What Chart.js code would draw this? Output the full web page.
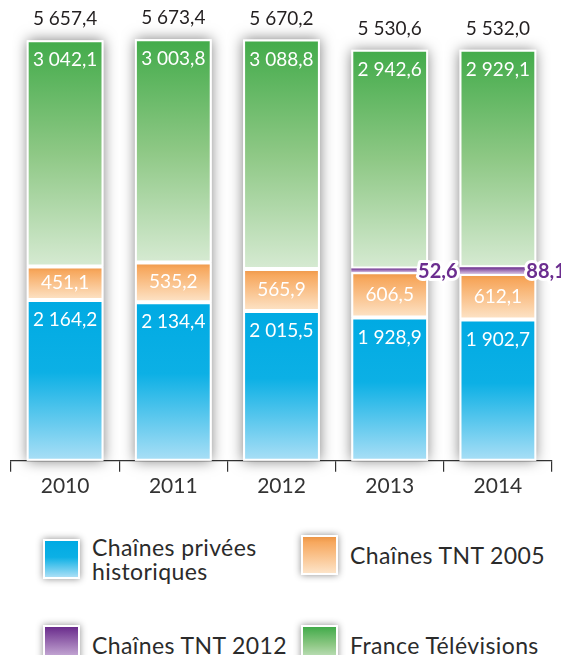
<!DOCTYPE html>
<html>
<head>
<meta charset="utf-8">
<script src="https://cdn.jsdelivr.net/npm/chart.js@4.4.1/dist/chart.umd.min.js"></script>
<style>
  html, body { margin: 0; padding: 0; background: #fff; }
  #wrap { position: relative; width: 561px; height: 655px; overflow: hidden; font-family: Lato, sans-serif; }
  #box { position: absolute; left: 0; top: 0; width: 561px; height: 501px; }
  .item { position: absolute; display: flex; align-items: center; color: #2b2b2b; font-size: 23px; line-height: 24px; letter-spacing: 0.4px; }
  .sw { width: 33px; height: 36px; border: 2px solid #fff; box-shadow: 0 0 7px rgba(0,0,0,0.45); margin-right: 12px; flex: none; }
</style>
</head>
<body>
<div id="wrap">
  <div id="box"><canvas id="tvChart"></canvas></div>
  <div id="legend"></div>
</div>
<script>
  // Données (millions d'euros)
  const years = ['2010', '2011', '2012', '2013', '2014'];
  const privees = [2164.2, 2134.4, 2015.5, 1928.9, 1902.7];
  const tnt2005 = [451.1, 535.2, 565.9, 606.5, 612.1];
  const tnt2012 = [null, null, null, 52.6, 88.1];
  const franceTv = [3042.1, 3003.8, 3088.8, 2942.6, 2929.1];
  const totals = [5657.4, 5673.4, 5670.2, 5530.6, 5532.0];
  const seriesNames = ['Chaînes privées historiques', 'Chaînes TNT 2005', 'Chaînes TNT 2012', 'France Télévisions'];

  const colorStops = [
    [[0, '#00aae3'], [0.45, '#0cb0e5'], [1, '#aadff6']],
    [[0, '#ec9546'], [0.15, '#f7a85e'], [1, '#fde4c8']],
    [[0, '#6a2c8c'], [1, '#d9c4e4']],
    [[0, '#42ab4a'], [0.5, '#8ec885'], [1, '#d6ead2']]
  ];

  function fmt(v) {
    const s = v.toFixed(1).split('.');
    return s[0].replace(/\B(?=(\d{3})+(?!\d))/g, ' ') + ',' + s[1];
  }

  function gradientFor(ds) {
    return function(c) {
      const chart = c.chart;
      const stops = colorStops[ds];
      if (!chart.chartArea || c.dataIndex === undefined) return stops[0][1];
      let base = 0;
      for (let d = 0; d < ds; d++) base += chart.data.datasets[d].data[c.dataIndex] || 0;
      const v = c.raw || 0;
      const y = chart.scales.y;
      const y0 = y.getPixelForValue(base), y1 = y.getPixelForValue(base + v);
      if (Math.abs(y0 - y1) < 1) return stops[0][1];
      const g = chart.ctx.createLinearGradient(0, y1, 0, y0);
      stops.forEach(s => g.addColorStop(s[0], s[1]));
      return g;
    };
  }

  // ombre derrière chaque colonne
  const shadowPlugin = {
    id: 'shadow',
    beforeDatasetsDraw(chart) {
      const ctx = chart.ctx;
      const yScale = chart.scales.y;
      ctx.save();
      ctx.shadowColor = 'rgba(0,0,0,0.5)';
      ctx.shadowBlur = 13;
      ctx.fillStyle = '#fff';
      years.forEach((_, i) => {
        let top = Infinity, el0 = null;
        chart.data.datasets.forEach((d, di) => {
          const el = chart.getDatasetMeta(di).data[i];
          if (d.data[i]) { top = Math.min(top, el.y); el0 = el; }
        });
        if (!el0) return;
        const base = yScale.getPixelForValue(0);
        ctx.fillRect(el0.x - el0.width / 2, top, el0.width, base - top);
      });
      ctx.restore();
    }
  };

  // étiquettes de valeurs
  const labelPlugin = {
    id: 'labels',
    afterDatasetsDraw(chart) {
      const ctx = chart.ctx;
      ctx.save();
      ctx.textAlign = 'center';
      ctx.textBaseline = 'middle';
      chart.data.datasets.forEach((d, di) => {
        chart.getDatasetMeta(di).data.forEach((el, i) => {
          const v = d.data[i];
          if (!v) return;
          if (di === 2) {
            ctx.font = 'bold 20px Lato, sans-serif';
            ctx.textAlign = 'left';
            const x = el.x + el.width / 2 - 10;
            const y = (el.y + el.base) / 2 + 1;
            ctx.lineWidth = 6;
            ctx.strokeStyle = '#fff';
            ctx.lineJoin = 'round';
            ctx.strokeText(fmt(v), x, y);
            ctx.fillStyle = '#6b2d8f';
            ctx.fillText(fmt(v), x, y);
            ctx.textAlign = 'center';
            return;
          }
          ctx.font = '19px Lato, sans-serif';
          ctx.fillStyle = '#fff';
          const y = di === 1 ? (el.y + el.base) / 2 : el.y + 20;
          ctx.fillText(fmt(v), el.x, y);
        });
      });
      ctx.font = '19px Lato, sans-serif';
      ctx.fillStyle = '#231f20';
      totals.forEach((t, i) => {
        let top = Infinity, x = 0;
        chart.data.datasets.forEach((d, di) => {
          const el = chart.getDatasetMeta(di).data[i];
          if (d.data[i]) { top = Math.min(top, el.y); x = el.x; }
        });
        ctx.fillText(fmt(t), x, top - 21);
      });
      ctx.restore();
    }
  };

  const seriesData = [privees, tnt2005, tnt2012, franceTv];

  const ctx = document.getElementById('tvChart').getContext('2d');
  const tvChart = new Chart(ctx, {
    type: 'bar',
    data: {
      labels: years,
      datasets: seriesData.map((data, i) => ({
        label: seriesNames[i],
        data: data,
        backgroundColor: gradientFor(i),
        borderColor: '#fff',
        borderWidth: i === 2 ? 0 : 2,
        borderSkipped: false,
        barPercentage: 0.71,
        categoryPercentage: 1
      }))
    },
    options: {
      responsive: true,
      maintainAspectRatio: false,
      animation: false,
      layout: { padding: { left: 11, right: 9, top: 0, bottom: 0 } },
      plugins: { legend: { display: false }, tooltip: { enabled: false } },
      scales: {
        x: {
          stacked: true,
          grid: { display: true, drawOnChartArea: false, tickLength: 11, color: '#333', lineWidth: 1.2 },
          border: { display: true, color: '#333', width: 1.2 },
          ticks: { color: '#333', font: { family: 'Lato', size: 21 }, padding: 2 }
        },
        y: { stacked: true, display: false, min: 0, max: 6200 }
      }
    },
    plugins: [shadowPlugin, labelPlugin]
  });

  // légende
  const legendPos = [[43, 535], [301, 535], [43, 625], [301, 625]];
  const legend = document.getElementById('legend');
  seriesNames.forEach((name, i) => {
    const item = document.createElement('div');
    item.className = 'item';
    item.style.left = legendPos[i][0] + 'px';
    item.style.top = legendPos[i][1] + 'px';
    const sw = document.createElement('div');
    sw.className = 'sw';
    sw.style.background = 'linear-gradient(' + colorStops[i].map(s => s[1] + ' ' + (s[0] * 100) + '%').join(',') + ')';
    const txt = document.createElement('div');
    txt.innerHTML = i === 0 ? 'Chaînes privées<br>historiques' : name;
    item.appendChild(sw);
    item.appendChild(txt);
    legend.appendChild(item);
  });
</script>
</body>
</html>
